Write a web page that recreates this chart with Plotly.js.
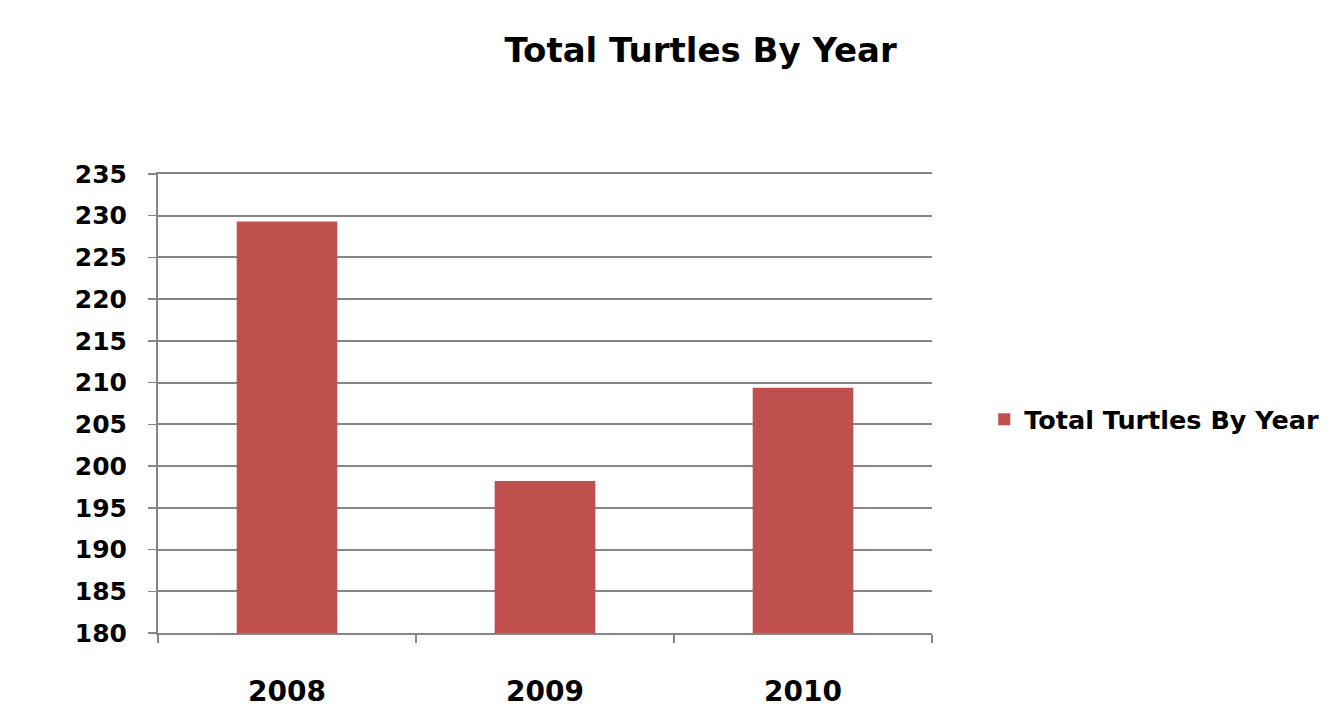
<!DOCTYPE html>
<html>
<head>
<meta charset="utf-8">
<script src="https://cdn.plot.ly/plotly-3.0.1.min.js"></script>
<style>html,body{margin:0;padding:0;background:#fff;overflow:hidden}#chart{width:1337px;height:713px}</style>
</head>
<body>
<div id="chart"></div>
<script>
const years = ["2008", "2009", "2010"];
const totalTurtles = [229.3, 198.2, 209.4];
const seriesName = "Total Turtles By Year";
const yTicks = [180, 185, 190, 195, 200, 205, 210, 215, 220, 225, 230, 235];

const fontFam = "DejaVu Sans, Verdana, sans-serif";
const data = [{
  type: "bar",
  x: years,
  y: totalTurtles,
  name: seriesName,
  showlegend: true,
  marker: {color: "#C0504D", line: {width: 0}}
}];
const layout = {
  width: 1337, height: 713,
  paper_bgcolor: "#fff", plot_bgcolor: "#fff",
  margin: {l: 158, r: 405, t: 174, b: 80, autoexpand: false},
  bargap: 0.61,
  title: {text: "<b>Total Turtles By Year</b>", x: 0.524, xanchor: "center", y: 0.93, yanchor: "middle",
          font: {family: fontFam, size: 34, color: "#000"}},
  xaxis: {
    type: "category",
    tickson: "boundaries",
    ticks: "outside", ticklen: 8, tickwidth: 1.5, tickcolor: "#868686",
    showline: true, linecolor: "#868686", linewidth: 2, mirror: true,
    showgrid: false, zeroline: false,
    ticklabelstandoff: 32,
    tickfont: {family: fontFam, size: 28, color: "#000", weight: "bold"}
  },
  yaxis: {
    range: [180, 235],
    tickvals: yTicks,
    ticktext: yTicks.map(String),
    ticks: "outside", ticklen: 8, tickwidth: 1.5, tickcolor: "#868686",
    showline: true, linecolor: "#868686", linewidth: 2,
    showgrid: true, gridcolor: "#868686", gridwidth: 2,
    zeroline: false,
    ticklabelstandoff: 16,
    tickfont: {family: fontFam, size: 25, color: "#000", weight: "bold"}
  },
  showlegend: true,
  legend: {
    x: 1.0675, xanchor: "left", y: 0.465, yanchor: "middle",
    bgcolor: "rgba(0,0,0,0)",
    font: {family: fontFam, size: 25.5, color: "#000", weight: "bold"},
    itemwidth: 30
  }
};
Plotly.newPlot("chart", data, layout, {staticPlot: true, displayModeBar: false});
</script>
</body>
</html>
